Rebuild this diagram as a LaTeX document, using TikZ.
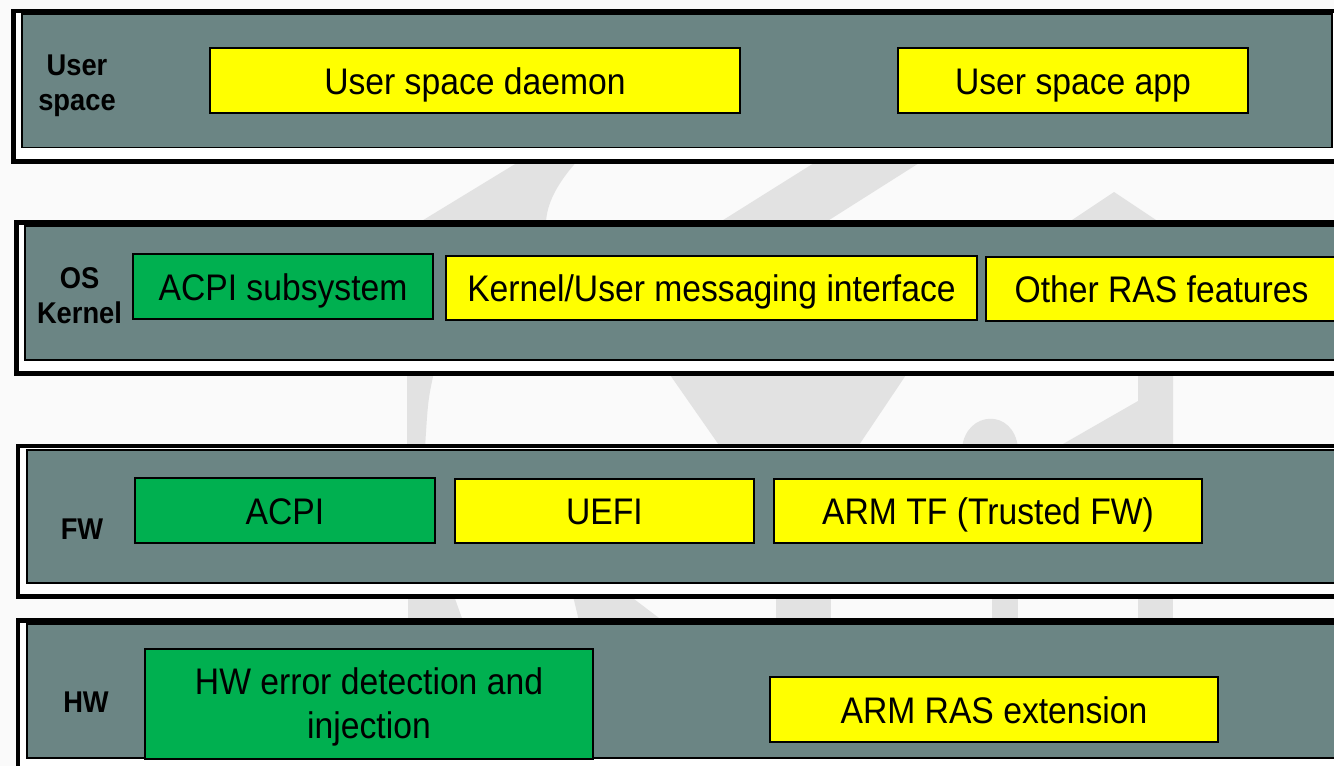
\documentclass[tikz,border=0pt]{standalone}
\usepackage{fontspec}
\setmainfont{Liberation Sans}[FakeStretch=0.91]
\usepackage{tikz}

\definecolor{layergray}{HTML}{6B8584}
\definecolor{rasgreen}{HTML}{00B050}
\definecolor{rasyellow}{HTML}{FFFF00}
\definecolor{wmgray}{HTML}{E2E2E2}
\definecolor{bggray}{HTML}{FAFAFA}

\begin{document}
\begin{tikzpicture}[
      x = 1pt, y = -1pt,
      every node/.style = {
        inner sep = 0pt, align = center, font = \fontsize{37}{44}\selectfont},
      frame/.style = {draw = black, line width = 4.5pt, fill = white},
      layer/.style = {draw = black, line width = 1.2pt, fill = layergray},
      yellowbox/.style = {draw, line width = 1.2pt, fill = rasyellow,
        minimum height = 65pt, text height = 27pt, text depth = 0pt},
      greenbox/.style = {draw, line width = 1.2pt, fill = rasgreen,
        minimum height = 65pt, text height = 27pt, text depth = 0pt},
      lbl/.style = {font = \bfseries\fontsize{30}{35}\selectfont}
      ]
    \useasboundingbox (0,0) rectangle (1334,766);
    \clip (0,0) rectangle (1334,766);
    \fill[bggray] (0,0) rectangle (1334,766);
    % watermark
    \begin{scope}[every path/.style = {fill = wmgray}]
      \path (525,158) -- (580,158) .. controls (555,185) and (547,205) .. (546,222) -- (420,222) -- cycle;
      \path (822,158) -- (927,158) -- (826,222) -- (720,222) -- cycle;
      \path (1114,192) -- (1159,222) -- (1069,222) -- cycle;
      \path (407,372) -- (434,372) .. controls (428,400) .. (425,448) -- (407,448) -- cycle;
      \path (668,372) -- (908,372) -- (857,448) -- (721,448) -- cycle;
      \path (962,448) .. controls (966,410) and (1014,408) .. (1018,448) -- cycle;
      \path (1138,372) -- (1173,372) -- (1173,448) -- (1056,448) -- (1138,401) -- cycle;
      \path (408,596) -- (454,596) -- (463,621) -- (408,621) -- cycle;
      \path (573,596) -- (630,596) -- (663,621) -- (579,621) -- cycle;
      \path (776,596) rectangle (831,621);
      \path (992,596) rectangle (1018,621);
      \path (1138,596) rectangle (1173,621);
    \end{scope}
    % layers
    \draw[frame] (13.5,10.8) rectangle (1360,161.3);
    \draw[layer] (22,14) rectangle (1332,147.5);
    \draw[frame] (16.5,222.5) rectangle (1360,373.5);
    \draw[layer] (25,226) rectangle (1360,360);
    \draw[frame] (18,446) rectangle (1360,596.5);
    \draw[layer] (27,450) rectangle (1360,583);
    \draw[frame] (18,620.5) rectangle (1360,800);
    \draw[layer] (27,624) rectangle (1360,758);
    % user space
    \node[lbl] (user) at (77,85.5) {User\\space};
    \node[yellowbox, minimum width = 530] (daemon) at (475,80.5) {User space daemon};
    \node[yellowbox, minimum width = 350] (app) at (1073,80.5) {User space app};
    % kernel
    \node[lbl] (kernel) at (79.5,296) {OS\\Kernel};
    \node[greenbox, minimum width = 300] (acpisub) at (283,286.5) {ACPI subsystem};
    \node[yellowbox, minimum width = 531, minimum height = 64] (msg) at (711.5,288) {Kernel/User messaging interface};
    \node[yellowbox, minimum width = 351, minimum height = 64] (otherras) at (1161.5,289) {Other RAS features};
    % firmware
    \node[lbl] (fw) at (82,529.5) {FW};
    \node[greenbox, minimum width = 300] (acpi) at (285,510.5) {ACPI};
    \node[yellowbox, minimum width = 299, minimum height = 64] (uefi) at (604.5,511) {UEFI};
    \node[yellowbox, minimum width = 428, minimum height = 64] (armtf) at (988,511) {ARM TF (Trusted FW)};
    % hardware
    \node[lbl] (hw) at (86,702) {HW};
    \node[greenbox, minimum width = 448, minimum height = 110,
      text height = 71pt, text depth = 3pt] (hwerr) at (369,704) {HW error detection and\\injection};
    \node[yellowbox, minimum width = 448] (armras) at (994,709.5) {ARM RAS extension};
\end{tikzpicture}
\end{document}
